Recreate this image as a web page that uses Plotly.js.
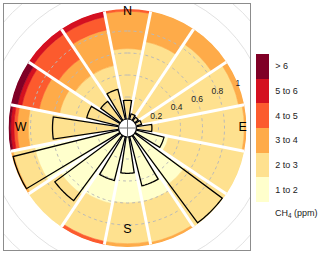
<!DOCTYPE html>
<html><head><meta charset="utf-8">
<script src="https://cdn.plot.ly/plotly-3.0.1.min.js"></script>
<style>html,body{margin:0;padding:0;background:#fff}#chart{width:320px;height:255px}</style>
</head><body><div id="chart"></div>
<script>
// ---------- data ----------
const directions = ['N','NNE','NE','ENE','E','ESE','SE','SSE','S','SSW','SW','WSW','W','WNW','NW','NNW'];
const directionAngles = [0,22.5,45,67.5,90,112.5,135,157.5,180,202.5,225,247.5,270,292.5,315,337.5];
const classLabels = ['1 to 2','2 to 3','3 to 4','4 to 5','5 to 6','> 6'];
const classColors = ['#FFFFCC','#FEE18F','#FEAB49','#FC5B2E','#D41020','#800026'];
// radial extent of each CH4 class in every direction (inner to outer)
const band1to2   = [0,    0,    0,    0,    0,    0.30, 0.55, 0.60, 0.60, 0.62, 0.65, 0.78, 0,    0,    0,    0   ];
const band2to3   = [0.64, 0.72, 0.84, 0.95, 0.98, 0.70, 0.45, 0.38, 0.37, 0.35, 0.35, 0.20, 0.82, 0.55, 0.50, 0.50];
const band3to4   = [0.34, 0.28, 0.16, 0.05, 0.02, 0,    0,    0.02, 0.03, 0,    0,    0.02, 0.10, 0.19, 0.18, 0.33];
const band4to5   = [0.02, 0,    0,    0,    0,    0,    0,    0,    0,    0.03, 0,    0,    0.03, 0.16, 0.27, 0.12];
const band5to6   = [0,    0,    0,    0,    0,    0,    0,    0,    0,    0,    0,    0,    0.03, 0.04, 0.05, 0.05];
const bandAbove6 = [0,    0,    0,    0,    0,    0,    0,    0,    0,    0,    0,    0,    0.02, 0.06, 0,    0   ];
// wind frequency rose (black outline)
const windFreq   = [0.17, 0.05, 0.04, 0.05, 0.14, 0.26, 0.99, 0.46, 0.33, 0.41, 0.74, 0.99, 0.60, 0.30, 0.22, 0.28];
const radialTicks = [0.2, 0.4, 0.6, 0.8, 1];
const radialTickText = ['0.2','0.4','0.6','0.8','1'];
const compassLabels = ['N','E','S','W'];
const compassAngles = [0, 90, 180, 270];

// ---------- style / geometry ----------
const FONT = 'Liberation Sans, Arial, Helvetica, sans-serif';
const W = 320, H = 255;
const M = {l:4, r:70, t:4, b:5};
const PW = W - M.l - M.r, PH = H - M.t - M.b;
const CX = 127.5, CY = 128, R = 119, HOLE_PX = 9;
const hole = HOLE_PX / R;
const compassLabelR = [0.973, 0.965, 0.845, 0.889];
const roseHalfWidth = 8.5;
const rpx = v => HOLE_PX + (R - HOLE_PX) * v;

// colored cells
const bands = [band1to2, band2to3, band3to4, band4to5, band5to6, bandAbove6];
const cellR = [], cellBase = [], cellTheta = [], cellClass = [], cellColor = [];
directions.forEach((d, i) => {
  let acc = 0;
  bands.forEach((b, k) => {
    if (b[i] > 0) {
      cellR.push(b[i]); cellBase.push(acc); cellTheta.push(directionAngles[i]);
      cellClass.push(k + 0.5); cellColor.push(classColors[k]);
      acc += b[i];
    }
  });
});
const nC = classColors.length;
const colorscale = [];
classColors.forEach((c, k) => { colorscale.push([k / nC, c]); colorscale.push([(k + 1) / nC, c]); });

const traces = [];
traces.push({
  type: 'barpolar', r: cellR, base: cellBase, theta: cellTheta,
  width: cellTheta.map(() => 22.5),
  marker: {
    color: cellClass, colorscale: colorscale, cmin: 0, cmax: nC,
    line: {color: cellColor, width: 0.6},
    showscale: true,
    colorbar: {
      x: (256 - M.l) / PW, xanchor: 'left', xpad: 0,
      y: (H - M.b - 54) / PH, yanchor: 'top', ypad: 0,
      len: 148, lenmode: 'pixels', thickness: 13, thicknessmode: 'pixels',
      outlinewidth: 0, ticks: 'outside', ticklen: 5, tickcolor: 'rgba(0,0,0,0)',
      tickvals: classLabels.map((_, k) => k + 0.5), ticktext: classLabels,
      tickfont: {family: FONT, size: 9, color: '#222'}
    }
  },
  hoverinfo: 'skip', showlegend: false
});

// dashed reference circles
const circTheta = [];
for (let a = 0; a <= 360; a += 2) circTheta.push(a);
radialTicks.slice(0, 4).forEach(v => {
  traces.push({type: 'scatterpolar', mode: 'lines', r: circTheta.map(() => v), theta: circTheta,
    line: {color: '#b9b9b9', width: 1, dash: '3px,3px'}, hoverinfo: 'skip', showlegend: false});
});

// white separators between sectors
const gapR = [], gapT = [];
directionAngles.forEach(a => { gapR.push(0, 1, null); gapT.push(a + 11.25, a + 11.25, null); });
traces.push({type: 'scatterpolar', mode: 'lines', r: gapR, theta: gapT,
  line: {color: '#ffffff', width: 3}, hoverinfo: 'skip', showlegend: false});

// wind frequency rose outlines
const roseR = [], roseT = [];
directionAngles.forEach((a, i) => {
  const f = windFreq[i];
  roseR.push(0); roseT.push(a - roseHalfWidth);
  for (let t = -roseHalfWidth; t <= roseHalfWidth + 1e-9; t += 1) { roseR.push(f); roseT.push(a + t); }
  roseR.push(f); roseT.push(a + roseHalfWidth);
  roseR.push(0); roseT.push(a + roseHalfWidth);
  roseR.push(null); roseT.push(null);
});
traces.push({type: 'scatterpolar', mode: 'lines', r: roseR, theta: roseT,
  line: {color: '#000', width: 1.3}, hoverinfo: 'skip', showlegend: false});

// radial tick labels
traces.push({type: 'scatterpolar', mode: 'text', r: radialTicks, theta: radialTicks.map(() => 68),
  text: radialTickText, textfont: {family: FONT, size: 8.5, color: '#222'}, cliponaxis: false,
  hoverinfo: 'skip', showlegend: false});
// compass labels
traces.push({type: 'scatterpolar', mode: 'text', r: compassLabelR, theta: compassAngles,
  text: compassLabels, textfont: {family: FONT, size: 12.5, color: '#000'}, cliponaxis: false,
  hoverinfo: 'skip', showlegend: false});

// cartesian overlay for frame and outer faint circles
traces.push({type: 'scatter', x: [null], y: [null], xaxis: 'x', yaxis: 'y', hoverinfo: 'skip', showlegend: false});

const shapes = [];
[1.2, 1.4].forEach(v => {
  const r = rpx(v);
  shapes.push({type: 'circle', xref: 'x', yref: 'y', x0: CX - r, x1: CX + r, y0: CY - r, y1: CY + r,
    line: {color: '#e2e2e2', width: 1}, layer: 'below'});
});
shapes.push({type: 'circle', xref: 'x', yref: 'y', x0: CX - HOLE_PX, x1: CX + HOLE_PX, y0: CY - HOLE_PX, y1: CY + HOLE_PX,
  fillcolor: '#fff', line: {color: '#000', width: 1.2}, layer: 'above'});
shapes.push({type: 'line', xref: 'x', yref: 'y', x0: CX - HOLE_PX, x1: CX + HOLE_PX, y0: CY, y1: CY, line: {color: '#777', width: 1}, layer: 'above'});
shapes.push({type: 'line', xref: 'x', yref: 'y', x0: CX, x1: CX, y0: CY - HOLE_PX, y1: CY + HOLE_PX, line: {color: '#777', width: 1}, layer: 'above'});

const layout = {
  width: W, height: H, margin: M,
  paper_bgcolor: '#fff', plot_bgcolor: '#fff',
  font: {family: FONT},
  showlegend: false,
  xaxis: {range: [M.l, M.l + PW], domain: [0, 1], showgrid: false, zeroline: false, showticklabels: false, ticks: '',
    showline: true, mirror: true, linecolor: '#8c8c8c', linewidth: 1.3, fixedrange: true},
  yaxis: {range: [M.t + PH, M.t], domain: [0, 1], showgrid: false, zeroline: false, showticklabels: false, ticks: '',
    showline: true, mirror: true, linecolor: '#8c8c8c', linewidth: 1.3, fixedrange: true},
  polar: {
    domain: {x: [(CX - R - M.l) / PW, (CX + R - M.l) / PW], y: [(H - M.b - CY - R) / PH, (H - M.b - CY + R) / PH]},
    hole: hole, bgcolor: 'rgba(0,0,0,0)',
    radialaxis: {range: [0, 1], showgrid: false, showline: false, showticklabels: false, ticks: ''},
    angularaxis: {rotation: 90, direction: 'clockwise', showgrid: false, showline: false, showticklabels: false, ticks: ''}
  },
  shapes: shapes,
  annotations: [{xref: 'paper', yref: 'paper', x: (273 - M.l) / PW, y: (H - M.b - 213) / PH, xanchor: 'left', yanchor: 'middle',
    showarrow: false, text: 'CH<sub>4</sub> (ppm)', font: {family: FONT, size: 9, color: '#222'}}]
};

Plotly.newPlot('chart', traces, layout, {displayModeBar: false, staticPlot: true});
</script>
</body></html>
